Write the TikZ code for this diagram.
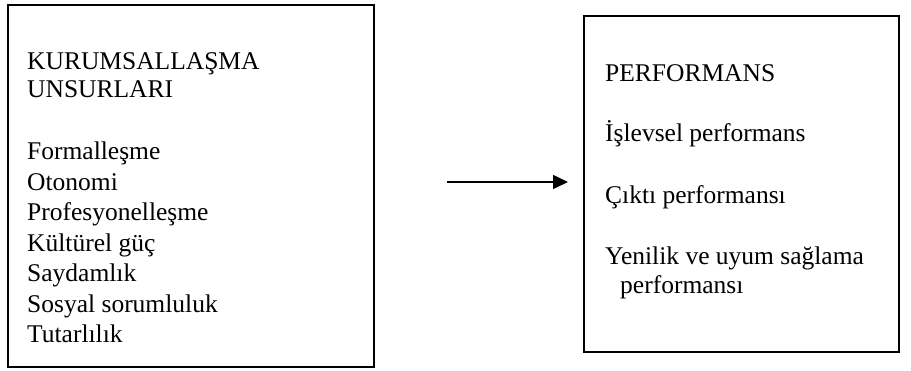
\documentclass[tikz,border=0pt]{standalone}
\usepackage{fontspec}
\setmainfont{Liberation Serif}
\usetikzlibrary{arrows.meta}
\begin{document}
\begin{tikzpicture}[x=1pt,y=-1pt,
  box/.style={draw, line width=2pt, inner sep=0pt, anchor=north west},
  txt/.style={anchor=base west, inner sep=0pt, font=\fontsize{25.5}{30}\selectfont},
  conn/.style={line width=1.6pt, -{Triangle[length=15pt,width=14pt]}},
]
\useasboundingbox (0,0) rectangle (911,371);
\node[box, minimum width=366pt, minimum height=362pt] (lbox) at (7,4) {};
\node[box, minimum width=315pt, minimum height=336pt] (rbox) at (583,15) {};
% left texts
\node[txt] (l1) at (27,70) {KURUMSALLAŞMA};
\node[txt] (l2) at (27,98) {UNSURLARI};
\node[txt] (l3) at (27,160) {Formalleşme};
\node[txt] (l4) at (27,190.5) {Otonomi};
\node[txt] (l5) at (27,221) {Profesyonelleşme};
\node[txt] (l6) at (27,251.5) {Kültürel güç};
\node[txt] (l7) at (27,282) {Saydamlık};
\node[txt] (l8) at (27,312.5) {Sosyal sorumluluk};
\node[txt] (l9) at (27,343) {Tutarlılık};
% right texts
\node[txt] (r1) at (605,82) {PERFORMANS};
\node[txt] (r2) at (605,142) {İşlevsel performans};
\node[txt] (r3) at (605,204) {Çıktı performansı};
\node[txt] (r4) at (605,265) {Yenilik ve uyum sağlama};
\node[txt] (r5) at (620,294) {performansı};
% arrow
\coordinate (a1) at (447,182);
\coordinate (a2) at (568,182);
\draw[conn] (a1) -- (a2);
\end{tikzpicture}
\end{document}
